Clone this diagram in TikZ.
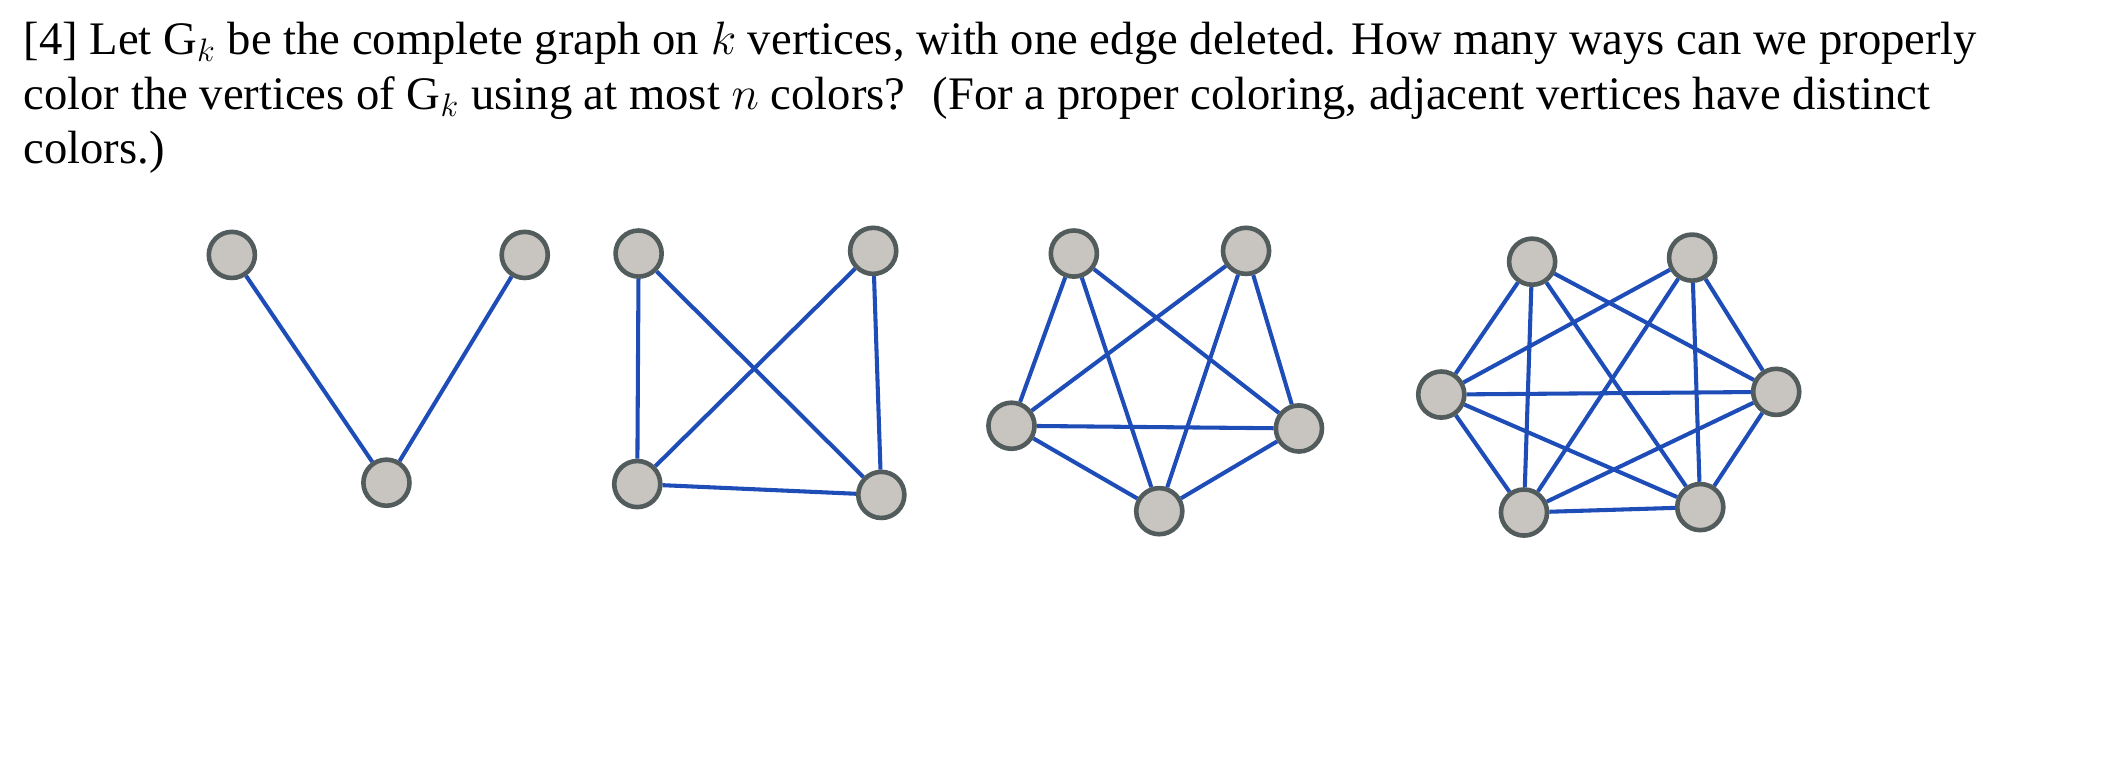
\documentclass[tikz,border=0pt]{standalone}
\usepackage{fontspec}
\setmainfont{Liberation Serif}
\begin{document}
\begin{tikzpicture}[x=0.5pt,y=-0.5pt,
  vtx/.style={circle,fill=vgray,draw=vborder,line width=1.7pt,minimum size=17pt,inner sep=0pt},
  edg/.style={draw=eblue,line width=1.5pt}]
\definecolor{vgray}{HTML}{C8C5C0}
\definecolor{vborder}{HTML}{535C5C}
\definecolor{eblue}{HTML}{1F4DB8}
\useasboundingbox (0,0) rectangle (1568,574);
\node[anchor=north west,inner sep=0pt,align=left,font=\fontsize{17.2}{20}\selectfont] (txt) at (17,16)
{[4] Let G$_k$ be the complete graph on $k$ vertices, with one edge deleted. How many ways can we properly\\
color the vertices of G$_k$ using at most $n$ colors? \ (For a proper coloring, adjacent vertices have distinct\\
colors.)};
% G3
\node[vtx] (a1) at (171,188) {}; \node[vtx] (a2) at (387,188) {}; \node[vtx] (a3) at (285,356) {};
% G4
\node[vtx] (b1) at (471,187) {}; \node[vtx] (b2) at (644,185) {}; \node[vtx] (b3) at (470,357) {}; \node[vtx] (b4) at (650,365) {};
% G5
\node[vtx] (c1) at (792,187) {}; \node[vtx] (c2) at (919,185) {}; \node[vtx] (c3) at (746,314) {}; \node[vtx] (c4) at (958,316) {}; \node[vtx] (c5) at (855,377) {};
% G6
\node[vtx] (d1) at (1130,193) {}; \node[vtx] (d2) at (1248,190) {}; \node[vtx] (d3) at (1063,291) {}; \node[vtx] (d4) at (1310,289) {}; \node[vtx] (d5) at (1124,378) {}; \node[vtx] (d6) at (1254,374) {};
\foreach \u/\v in {a1/a3,a2/a3,
  b1/b3,b1/b4,b2/b3,b2/b4,b3/b4,
  c1/c3,c1/c4,c1/c5,c2/c3,c2/c4,c2/c5,c3/c4,c3/c5,c4/c5,
  d1/d3,d1/d4,d1/d5,d1/d6,d2/d3,d2/d4,d2/d5,d2/d6,d3/d4,d3/d5,d3/d6,d4/d5,d4/d6,d5/d6}
  \draw[edg] (\u) -- (\v);
\end{tikzpicture}
\end{document}
